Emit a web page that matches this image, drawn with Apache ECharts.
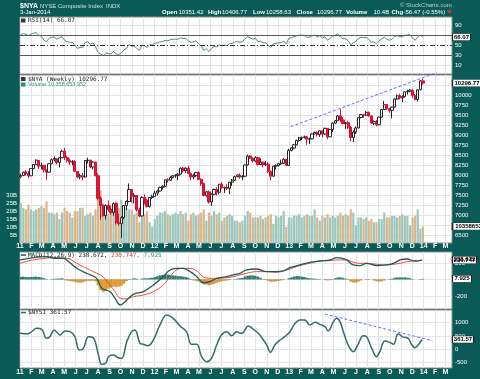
<!DOCTYPE html>
<html><head><meta charset="utf-8">
<script src="https://cdn.jsdelivr.net/npm/echarts@6/dist/echarts.min.js"></script>
<style>html,body{margin:0;padding:0;background:#0a5b57;}#c{width:480px;height:379px;}</style>
</head><body><div id="c"></div>
<script>
// ---------- DATA (weekly, week 0 = first week of Jan 2011) ----------
// [open, close, low, high]
const ohlc = [
[7964,8000,7930,8040],[8000,8080,7980,8095],[8085,8040,8000,8130],[8045,7990,7930,8110],[7990,8170,7980,8180],
[8170,8270,8150,8285],[8270,8380,8260,8400],[8370,8230,8160,8380],[8230,8250,8150,8320],[8250,8140,8070,8260],
[8130,8080,7890,8150],[8080,8290,8070,8300],[8290,8390,8280,8420],[8390,8420,8350,8470],[8410,8320,8270,8430],
[8320,8440,8200,8450],[8440,8600,8430,8640],[8600,8440,8380,8680],[8440,8370,8320,8480],[8370,8330,8260,8420],
[8330,8345,8250,8380],[8340,8100,8090,8380],[8100,7960,7940,8110],[7960,7990,7900,8040],[7990,7960,7880,8060],
[7960,8370,7950,8380],[8370,8380,8300,8440],[8380,8210,8180,8390],[8210,8330,8150,8350],[8330,7990,7980,8340],
[7990,7430,7380,8050],[7430,7250,6900,7480],[7250,7000,6970,7280],[7000,7250,6900,7280],[7250,7150,7100,7380],
[7150,7080,7020,7250],[7080,7300,7000,7330],[7300,6830,6780,7320],[6830,6800,6750,7050],[6800,6950,6440,6980],
[6950,7250,6920,7260],[7250,7350,7140,7380],[7350,7650,7330,7800],[7650,7480,7320,7660],[7480,7500,7300,7560],
[7500,7140,7100,7510],[7140,6990,6960,7200],[6990,7450,6980,7480],[7450,7380,7280,7530],[7380,7230,7200,7420],
[7230,7450,7200,7460],[7450,7477,7410,7520],[7477,7560,7470,7620],[7560,7610,7500,7640],[7610,7700,7600,7720],
[7700,7730,7650,7760],[7730,7890,7700,7900],[7890,7880,7820,7930],[7880,7950,7860,7980],[7950,7990,7930,8010],
[7990,8000,7940,8030],[8000,8030,7880,8060],[8030,8180,8020,8200],[8180,8120,8070,8210],[8120,8180,8060,8200],
[8180,8050,8030,8240],[8050,7960,7880,8070],[7960,8000,7900,8040],[8000,8070,7960,8090],[8070,7900,7880,8100],
[7900,7800,7740,7930],[7800,7500,7480,7820],[7500,7590,7470,7610],[7590,7340,7300,7620],[7340,7530,7240,7550],
[7530,7650,7510,7670],[7650,7580,7500,7700],[7580,7780,7530,7790],[7780,7690,7670,7830],[7690,7700,7560,7720],
[7700,7680,7640,7780],[7680,7830,7530,7840],[7830,7880,7740,7910],[7880,7970,7860,7990],[7970,8010,7950,8030],
[8010,7960,7920,8050],[7960,7980,7880,8010],[7980,8260,7960,8270],[8260,8480,8240,8520],[8480,8430,8410,8510],
[8430,8360,8320,8450],[8360,8440,8330,8480],[8440,8270,8250,8460],[8270,8330,8260,8420],[8330,8270,8200,8340],
[8270,8280,8230,8360],[8280,8100,8060,8330],[8100,7980,7880,8120],[7980,8230,7970,8240],[8230,8250,8150,8270],
[8250,8290,8220,8310],[8290,8300,8260,8390],[8300,8400,8280,8430],[8400,8250,8230,8410],[8250,8620,8240,8660],
[8620,8680,8600,8700],[8680,8760,8650,8780],[8760,8870,8750,8890],[8870,8930,8840,8960],[8930,8940,8880,8970],
[8940,8960,8920,8990],[8960,8900,8760,8980],[8900,8910,8780,8940],[8910,9030,8900,9050],[9030,9070,9020,9090],
[9070,9020,8970,9100],[9020,9110,8960,9120],[9110,9030,8940,9130],[9030,9170,9010,9190],[9170,8960,8900,9180],
[8960,9140,8950,9160],[9140,9300,9080,9320],[9300,9360,9280,9380],[9360,9480,9350,9500],[9480,9380,9330,9660],
[9380,9290,9280,9450],[9290,9310,9150,9330],[9310,9200,9150,9360],[9200,8940,8850,9230],[8940,9080,8830,9120],
[9080,9180,9030,9220],[9180,9440,9170,9450],[9440,9510,9420,9530],[9510,9500,9440,9530],[9500,9570,9480,9600],
[9570,9480,9460,9590],[9480,9300,9290,9500],[9300,9340,9250,9370],[9340,9260,9220,9380],[9260,9450,9250,9460],
[9450,9640,9440,9650],[9640,9760,9630,9850],[9760,9660,9630,9770],[9660,9620,9560,9680],[9620,9700,9420,9710],
[9700,9900,9690,9920],[9900,9980,9880,10010],[9980,9930,9890,10030],[9930,9960,9820,9990],[9960,10080,9940,10090],
[10080,10090,10010,10130],[10090,10120,10070,10150],[10120,9990,9930,10130],[9990,9890,9870,10020],[9890,10130,9840,10150],
[10130,10350,10120,10370],[10351.42,10296.77,10258.63,10406.77]
];
// weekly volume, billions of shares
const volumeB = [
25,22,21,24,21,20,21,22,23,22, 26,19,19,18,19,15,19,22,20,19, 16,20,20,22,22,17,18,19,17,21,
29,33,25,21,18,21,22,26,22,27, 21,22,21,21,18,19,13,20,18,20, 13,10,15,17,19,19,20,18,17,18,
19,18,20,18,19,14,18,19,17,18, 19,21,14,19,17,20,18,19,14,16, 17,18,17,14,14,13,14,17,20,19,
16,16,16,17,15,16,17,18,12,17, 16,17,20,10,16,16,17,17,18,16, 17,18,17,17,21,16,14,17,16,18,
16,17,16,17,19,17,18,17,21,19, 11,16,16,15,16,14,15,13,13,15, 15,19,16,16,17,17,16,17,18,17,
17,11,16,17,21,9,10.36
];
const rsi14 = [
71,73,72,69,72,74,75,70,68,60, 57,64,66,66,62,65,67,60,57,56, 56,50,44,46,46,56,57,52,55,47,
36,33,30,35,34,33,38,33,32,35, 41,44,52,48,49,44,40,50,49,46, 51,51,54,55,57,57,60,59,61,62,
62,62,65,63,64,59,56,57,59,53, 49,40,43,38,44,48,47,51,49,50, 49,53,54,56,58,56,57,63,67,65,
62,64,57,58,55,55,50,46,53,54, 55,55,58,53,64,65,67,69,70,70, 70,66,66,69,70,67,69,65,67,60,
64,68,70,73,66,63,63,59,51,55, 58,64,66,65,66,62,56,57,53,59, 63,66,62,60,62,67,69,67,67,70,
70,71,64,60,66,70,66.07
];
const macdHist = [
30,35,30,28,30,32,35,30,25,15, 5,0,5,8,10,12,15,-5,-12,-18, -22,-28,-35,-38,-35,-20,-15,-15,-12,-20,
-70,-130,-150,-140,-110,-95,-85,-90,-85,-75, -50,-20,5,5,15,10,0,10,15,12, 18,20,30,40,50,55,60,60,55,50,
45,40,40,35,30,20,5,-10,-15,-25, -35,-55,-60,-70,-60,-50,-40,-30,-20,-15, -10,-5,0,5,10,15,20,35,45,50,
50,45,35,20,5,-5,-15,-25,-25,-20, -15,-10,-5,0,15,25,35,40,40,35, 30,20,15,12,10,8,5,0,-5,-10,
-5,5,15,25,25,20,10,-5,-25,-35, -35,-25,-10,0,5,5,0,-10,-20,-25, -20,-10,0,5,10,20,25,25,25,25,
20,15,5,0,0,5,7.925
];
// MACD lines (days since 1 Jan 2011)
const macdDays = [0,36,68,95,118,127,154,181,208,222,244,258,272,285,308,335,362,389,407,425,443,462,480,498,516,534,561,579,597,615,642,670,697,715,733,760,787,814,842,860,887,905,923,941,968,995,1014,1032,1050,1072,1092];
const macdLine = [237,265,277,257,257,237,135,75,14,-107,-147,-228,-309,-269,-180,-147,-67,34,115,135,135,95,34,-40,-26,14,34,55,75,115,127,95,95,103,143,176,208,224,237,265,237,176,168,196,168,176,196,237,248,224,238.672];
const signalLine = [196,237,257,265,257,257,196,135,75,45,-67,-147,-228,-236,-208,-188,-147,-67,34,115,135,135,103,30,14,14,22,34,55,75,95,95,87,103,127,168,196,224,228,237,237,208,196,196,184,176,184,196,216,224,230.747];
// $NYSI (days since 1 Jan 2011)
const nysiDays = [0,18,32,45,59,72,81,93,109,122,136,149,161,172,186,199,213,222,233,240,253,267,276,290,303,312,326,335,348,362,380,398,416,434,452,466,480,493,507,520,534,547,561,575,588,602,620,633,647,661,670,680,692,706,719,733,747,760,774,787,801,814,828,837,851,860,869,878,891,905,918,932,941,955,968,977,991,1004,1014,1027,1041,1054,1063,1072,1081,1092];
const nysiValues = [595,570,659,786,748,406,469,722,532,684,659,469,-38,25,469,431,-228,-583,-545,-290,-228,-330,-355,279,659,722,216,178,127,342,913,1293,1166,887,659,178,178,-290,-482,-355,152,532,659,507,659,595,875,760,595,342,152,-126,152,342,469,659,976,1103,1103,913,1014,938,849,684,1039,1166,1039,659,152,-101,178,507,469,25,-290,-101,304,254,178,583,450,406,178,50,152,361.57];
// drawn trend lines
const priceTrendDays = [735, 1131];
const priceTrendValues = [9211, 10555];
const nysiTrendDays = [828, 1120];
const nysiTrendValues = [1331, 316];
// ticks / labels
const priceGridTicks = [6500,6750,7000,7250,7500,7750,8000,8250,8500,8750,9000,9250,9500,9750,10000,10250];
const priceLabelTicks = [6500,7000,7250,7500,7750,8000,8250,8500,8750,9000,9250,9500,9750,10000];
const volumeLabelTicks = [5,10,15,20,25,30];
const rsiGridTicks = [10,90];
const rsiLabelTicks = [10,30,50,90];
const macdGridTicks = [-200,0,200];
const macdLabelTicks = [-200,200];
const nysiGridTicks = [-500,0,500,1000];
const nysiLabelTicks = [-500,0,500,1000];
const monthLetters = ['J','F','M','A','M','J','J','A','S','O','N','D'];
const yearLabels = {2011:'11',2012:'12',2013:'13',2014:'14'};

// ---------- SETUP ----------
const SANS = '"Liberation Sans", Arial, sans-serif';
const MONO = '"DejaVu Sans Mono", monospace';
const W0 = Date.UTC(2011,0,1), DAY = 864e5;
const xMaxDay = 1173;
const firstWeekDay = 2;
const weekX = i => firstWeekDay + 7*i;
const monthTicks = [];
for (let y=2011;y<=2014;y++) for (let m=0;m<12;m++){ const d=(Date.UTC(y,m,1)-W0)/DAY; if (d<=xMaxDay) monthTicks.push(d); }
function monthLabel(v){ const dt=new Date(W0+Math.round(v)*DAY); const m=dt.getUTCMonth(); return m===0 ? yearLabels[dt.getUTCFullYear()] : monthLetters[m]; }

function xAx(gi, show, margin){
  return {type:'value', gridIndex:gi, min:0, max:xMaxDay,
    axisLine:{show:false}, axisTick:{show:false, customValues:monthTicks},
    axisLabel:{show:show, customValues:monthTicks, formatter:monthLabel, color:'#fff', fontSize:7, fontWeight:'bold', fontFamily:SANS, margin:margin},
    splitLine:{show:true, lineStyle:{color:'#e4e4e4', width:1}}};
}
function yAx(gi, min, max, gridTicks, labelTicks, pos, fmt, split){
  return {type:'value', gridIndex:gi, position:pos||'right', min:min, max:max, scale:true,
    axisLine:{show:false}, axisTick:{show:false, customValues:gridTicks},
    axisLabel:{customValues:labelTicks, color:'#fff', fontSize:6, fontFamily:SANS, margin:3, formatter:fmt||(v=>String(v))},
    splitLine:{show:split!==false, lineStyle:{color:'#e4e4e4', width:1}}};
}
function tag(yv, text, w, border, color){
  return {coord:[xMaxDay, yv], symbol:'rect', symbolSize:[w,7], symbolOffset:[w/2+0.5,0],
    itemStyle:{color:'#fff', borderColor:border||'#222', borderWidth:0.7},
    label:{show:true, position:'inside', formatter:text, color:color||'#000', fontSize:6, fontWeight:'bold', fontFamily:SANS}};
}
const gridBase = {left:20, right:28, show:true, backgroundColor:'#fff', borderColor:'#8c8c8c', borderWidth:1, containLabel:false, outerBoundsMode:'none'};

const UP_VOL = '#9cc8be', DOWN_VOL = '#d9b68d';

const txt = (x,y,text,font,fill,extra) => ({type:'text', x:x, y:y, silent:true, z:50,
  style:Object.assign({text:text, font:font, fill:fill, verticalAlign:'middle', align:'left'}, extra||{})});
const hdrPairs = [['Open','10351.42',162,178.5],['High','10406.77',208,222],['Low','10258.63',253,266],
  ['Close','10296.77',296.5,317],['Volume','10.4B',346,373.5],['Chg','-56.47 (-0.55%)',391.5,403.5]];
const graphics = [
  txt(20,6,'$NYA','bold 7px '+SANS,'#ffffff'),
  txt(40,6,'NYSE Composite Index','6px '+SANS,'#cfe2df'),
  txt(106,6,'INDX','6px '+SANS,'#cfe2df'),
  txt(20,12.5,'3-Jan-2014','6px '+SANS,'#ffffff'),
  txt(400,5,'\u00A9 StockCharts.com','6px '+SANS,'#b9d0cd'),
  {type:'polygon', silent:true, z:50, shape:{points:[[447,10.5],[452,10.5],[449.5,14]]}, style:{fill:'#e8302a'}},
  // panel titles
  {type:'rect', silent:true, z:50, shape:{x:21,y:18.5,width:4.5,height:4}, style:{fill:'#3a3a3a'}},
  txt(28,20.5,'RSI(14) 66.07','6px '+MONO,'#222'),
  {type:'rect', silent:true, z:50, shape:{x:21,y:77,width:4.5,height:4}, style:{fill:'#3a3a3a'}},
  txt(28,79,'$NYA (Weekly) 10296.77','6px '+MONO,'#222'),
  {type:'rect', silent:true, z:50, shape:{x:21,y:82.5,width:4.5,height:4}, style:{fill:'#2b8f80'}},
  txt(28,84.5,'Volume 10,358,653,952','5.5px '+SANS,'#2b8f80'),
  {type:'rect', silent:true, z:50, shape:{x:21,y:254.3,width:5,height:1.5}, style:{fill:'#1d5c56'}},
  txt(28,255,'{a|MACD(12,26,9) 238.672,} {b|230.747,} {c|7.925}','6px '+MONO,'#222',
     {rich:{a:{fill:'#222',font:'6px '+MONO}, b:{fill:'#e5403a',font:'6px '+MONO}, c:{fill:'#2b8f80',font:'6px '+MONO}}}),
  {type:'rect', silent:true, z:50, shape:{x:21,y:311.8,width:5,height:1.5}, style:{fill:'#2f6e68'}},
  txt(28,312.5,'$NYSI 361.57','6px '+MONO,'#222')
];
hdrPairs.forEach(p => { graphics.push(txt(p[2],12.5,p[0],'bold 6px '+SANS,'#ffffff')); graphics.push(txt(p[3],12.5,p[1],'6px '+SANS,'#ffffff')); });

const option = {
  backgroundColor:'#0a5b57',
  animation:false,
  textStyle:{fontFamily:SANS},
  grid:[
    Object.assign({top:17, height:57}, gridBase),
    Object.assign({top:75, height:168}, gridBase),
    Object.assign({top:252, height:57}, gridBase),
    Object.assign({top:310, height:58}, gridBase)
  ],
  xAxis:[ xAx(0,false,0), xAx(1,true,0), xAx(2,false,0), xAx(3,true,1) ],
  yAxis:[
    yAx(0,-6.3,105.7,rsiGridTicks,rsiLabelTicks),
    yAx(1,6318,10498,priceGridTicks,priceLabelTicks),
    yAx(1,0,105,volumeLabelTicks,volumeLabelTicks,'left',v=>v+'B',false),
    yAx(2,-358,333,macdGridTicks,macdLabelTicks),
    yAx(3,-722,1483,nysiGridTicks,nysiLabelTicks)
  ],
  graphic:graphics,
  series:[
    {type:'line', name:'RSI', xAxisIndex:0, yAxisIndex:0, data:rsi14.map((v,i)=>[weekX(i),v]),
      showSymbol:false, lineStyle:{color:'#4d8a81', width:1}, z:4,
      markLine:{silent:true, symbol:'none', label:{show:false}, animation:false,
        data:[{yAxis:70, lineStyle:{color:'#5a5a5a', type:'solid', width:1}},
              {yAxis:30, lineStyle:{color:'#5a5a5a', type:'solid', width:1}},
              {yAxis:50, lineStyle:{color:'#333', type:[5,2,1,2], width:1}}]},
      markPoint:{silent:true, data:[tag(66.07,'66.07',18)]}},
    {type:'bar', name:'Volume', xAxisIndex:1, yAxisIndex:2, barWidth:2.2, z:1,
      data:volumeB.map((v,i)=>({value:[weekX(i),v], itemStyle:{color: ohlc[i][1]>=ohlc[i][0]?UP_VOL:DOWN_VOL}})),
      markPoint:{silent:true, data:[tag(10.36,'10358653952',42)]}},
    {type:'candlestick', name:'NYA', xAxisIndex:1, yAxisIndex:1, barWidth:2.7, z:5,
      data:ohlc.map((d,i)=>[weekX(i),d[0],d[1],d[2],d[3]]),
      itemStyle:{color:'#ffffff', color0:'#e3173e', borderColor:'#262626', borderColor0:'#d8102f', borderWidth:1}},
    {type:'line', name:'Trend', xAxisIndex:1, yAxisIndex:1, clip:false, showSymbol:false, z:6,
      data:priceTrendDays.map((d,i)=>[d,priceTrendValues[i]]),
      lineStyle:{color:'#6a6aff', type:[3,2], width:1},
      markPoint:{silent:true, data:[tag(10296.77,'10296.77',29)]}},
    {type:'bar', name:'Hist', xAxisIndex:2, yAxisIndex:3, barWidth:2.6, z:2,
      data:macdHist.map((v,i)=>({value:[weekX(i),v], itemStyle: v>=0 ? {color:'#2e7d72'} : {color:'#f0a22e', borderColor:'#8a6420', borderWidth:0.3}})),
      markPoint:{silent:true, data:[tag(7.925,'7.925',19)]}},
    {type:'line', name:'Signal', xAxisIndex:2, yAxisIndex:3, smooth:0.4, showSymbol:false, z:4,
      data:macdDays.map((d,i)=>[d,signalLine[i]]), lineStyle:{color:'#ee4a42', width:1},
      markPoint:{silent:true, data:[tag(230.747,'230.747',24,'#e5403a')]}},
    {type:'line', name:'MACD', xAxisIndex:2, yAxisIndex:3, smooth:0.4, showSymbol:false, z:5,
      data:macdDays.map((d,i)=>[d,macdLine[i]]), lineStyle:{color:'#1d5c56', width:1.3},
      markPoint:{silent:true, data:[tag(238.672,'238.672',24)]}},
    {type:'line', name:'NYSI', xAxisIndex:3, yAxisIndex:4, smooth:0.4, showSymbol:false, z:4,
      data:nysiDays.map((d,i)=>[d,nysiValues[i]]), lineStyle:{color:'#2f6e68', width:1.5},
      markPoint:{silent:true, data:[tag(361.57,'361.57',21)]}},
    {type:'line', name:'NYSI trend', xAxisIndex:3, yAxisIndex:4, clip:false, showSymbol:false, z:5,
      data:nysiTrendDays.map((d,i)=>[d,nysiTrendValues[i]]), lineStyle:{color:'#6a6aff', type:[3,2], width:1}}
  ]
};
const chart = echarts.init(document.getElementById('c'), null, {renderer:'canvas'});
chart.setOption(option);
</script></body></html>
